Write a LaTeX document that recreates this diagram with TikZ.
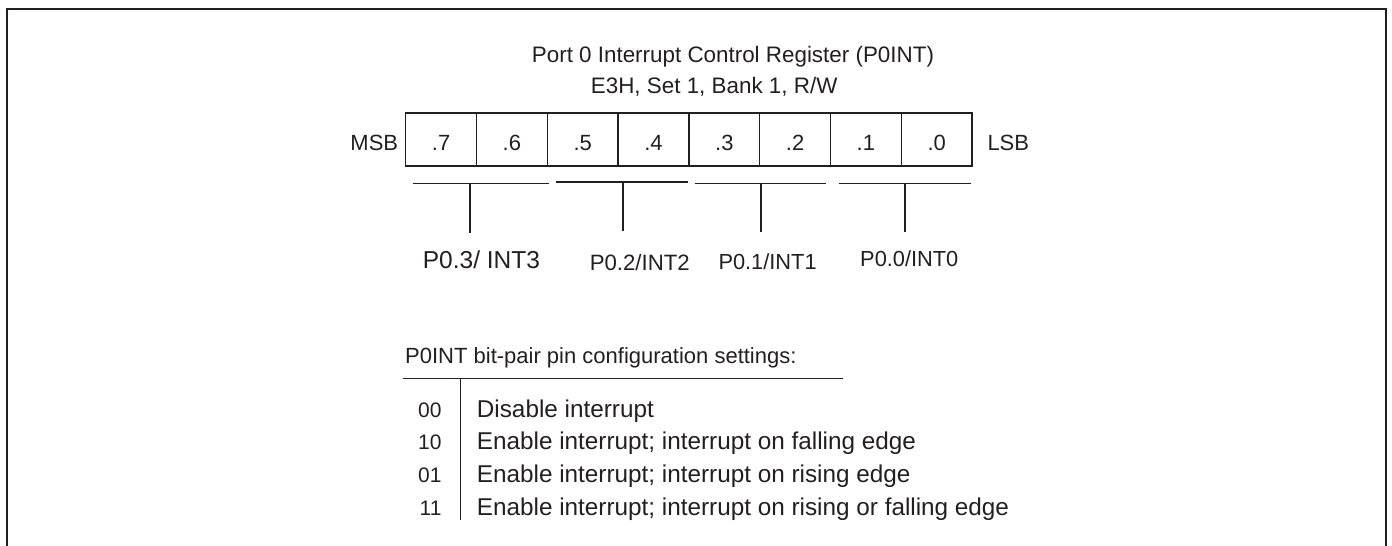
\documentclass[tikz,border=0pt]{standalone}
\usepackage{fontspec}
\setmainfont{Liberation Sans}
\definecolor{ink}{HTML}{231F20}
\newcommand\myfs[1]{\fontsize{#1}{#1}\selectfont}
\begin{document}
\begin{tikzpicture}[x=1pt,y=-1pt,
  every node/.style={inner sep=0pt, text=ink},
  txt/.style={anchor=base west},
  txte/.style={anchor=base east},
  cell/.style={draw=ink, line width=1.5pt, minimum width=70.8pt, minimum height=53pt,
    text height=22.4pt, text depth=0pt, font=\myfs{22}},
  brk/.style={draw=ink, line width=1.3pt},
  tbl/.style={draw=ink, line width=1.5pt},
  frame/.style={draw=ink, line width=2.3pt}]
\useasboundingbox (0,0) rectangle (1392,546);
% open frame
\coordinate (fbl) at (6.8,547);
\coordinate (ftl) at (6.8,9);
\coordinate (ftr) at (1386.2,9);
\coordinate (fbr) at (1386.2,547);
\draw[frame] (fbl) -- (ftl) -- (ftr) -- (fbr);
% titles
\node[txt, font=\myfs{22.4}] (title) at (531.7,62.7) {Port 0 Interrupt Control Register (P0INT)};
\node[txt, font=\myfs{22.4}] (sub) at (590.7,93.3) {E3H, Set 1, Bank 1, R/W};
% register cells
\foreach \b [count=\i from 0] in {7,6,5,4,3,2,1,0}{
  \node[cell] (c\b) at ({405.7+70.8*(\i+0.5)},139.5) {.\b};
}
\node[txte, font=\myfs{22}] (msb) at (398.3,150.5) {MSB};
\node[txt, font=\myfs{22}] (lsb) at (987.3,150.5) {LSB};
% brackets
\coordinate (b3l) at (413,183.3);  \coordinate (b3r) at (549,183.3);
\coordinate (b3t) at (470,183.3);  \coordinate (b3b) at (470,233);
\coordinate (b2l) at (556,182);    \coordinate (b2r) at (688,182);
\coordinate (b2t) at (623,182);    \coordinate (b2b) at (623,230.5);
\coordinate (b1l) at (695,183.3);  \coordinate (b1r) at (826,183.3);
\coordinate (b1t) at (761,183.3);  \coordinate (b1b) at (761,232);
\coordinate (b0l) at (839,183.3);  \coordinate (b0r) at (971,183.3);
\coordinate (b0t) at (905,183.3);  \coordinate (b0b) at (905,232);
\foreach \k in {3,2,1,0}{
  \draw[brk] (b\k l) -- (b\k r);
  \draw[brk] (b\k t) -- (b\k b);
}
\node[txt, font=\myfs{24.5}] (p3) at (422.7,268) {P0.3/ INT3};
\node[txt, font=\myfs{22.2}] (p2) at (589.6,270.4) {P0.2/INT2};
\node[txt, font=\myfs{21.8}] (p1) at (718.3,269.3) {P0.1/INT1};
\node[txt, font=\myfs{21.8}] (p0) at (860,266) {P0.0/INT0};
% settings table
\node[txt, font=\myfs{22}] (hdr) at (405,363.3) {P0INT bit-pair pin configuration settings:};
\coordinate (hl) at (403,378.3);
\coordinate (hr) at (842.7,378.3);
\coordinate (vt) at (460.7,378.3);
\coordinate (vb) at (460.7,520);
\draw[tbl] (hl) -- (hr);
\draw[tbl] (vt) -- (vb);
\node[txte, font=\myfs{21}] (k00) at (441.7,417) {00};
\node[txte, font=\myfs{21}] (k10) at (441.7,449) {10};
\node[txte, font=\myfs{21}] (k01) at (441.7,482.7) {01};
\node[txte, font=\myfs{21}] (k11) at (441.7,515) {11};
\node[txt, font=\myfs{24.3}] (d00) at (476.7,417) {Disable interrupt};
\node[txt, font=\myfs{24.3}] (d10) at (476.7,449) {Enable interrupt; interrupt on falling edge};
\node[txt, font=\myfs{24.3}] (d01) at (476.7,482.7) {Enable interrupt; interrupt on rising edge};
\node[txt, font=\myfs{24.3}] (d11) at (476.7,515) {Enable interrupt; interrupt on rising or falling edge};
\end{tikzpicture}
\end{document}
